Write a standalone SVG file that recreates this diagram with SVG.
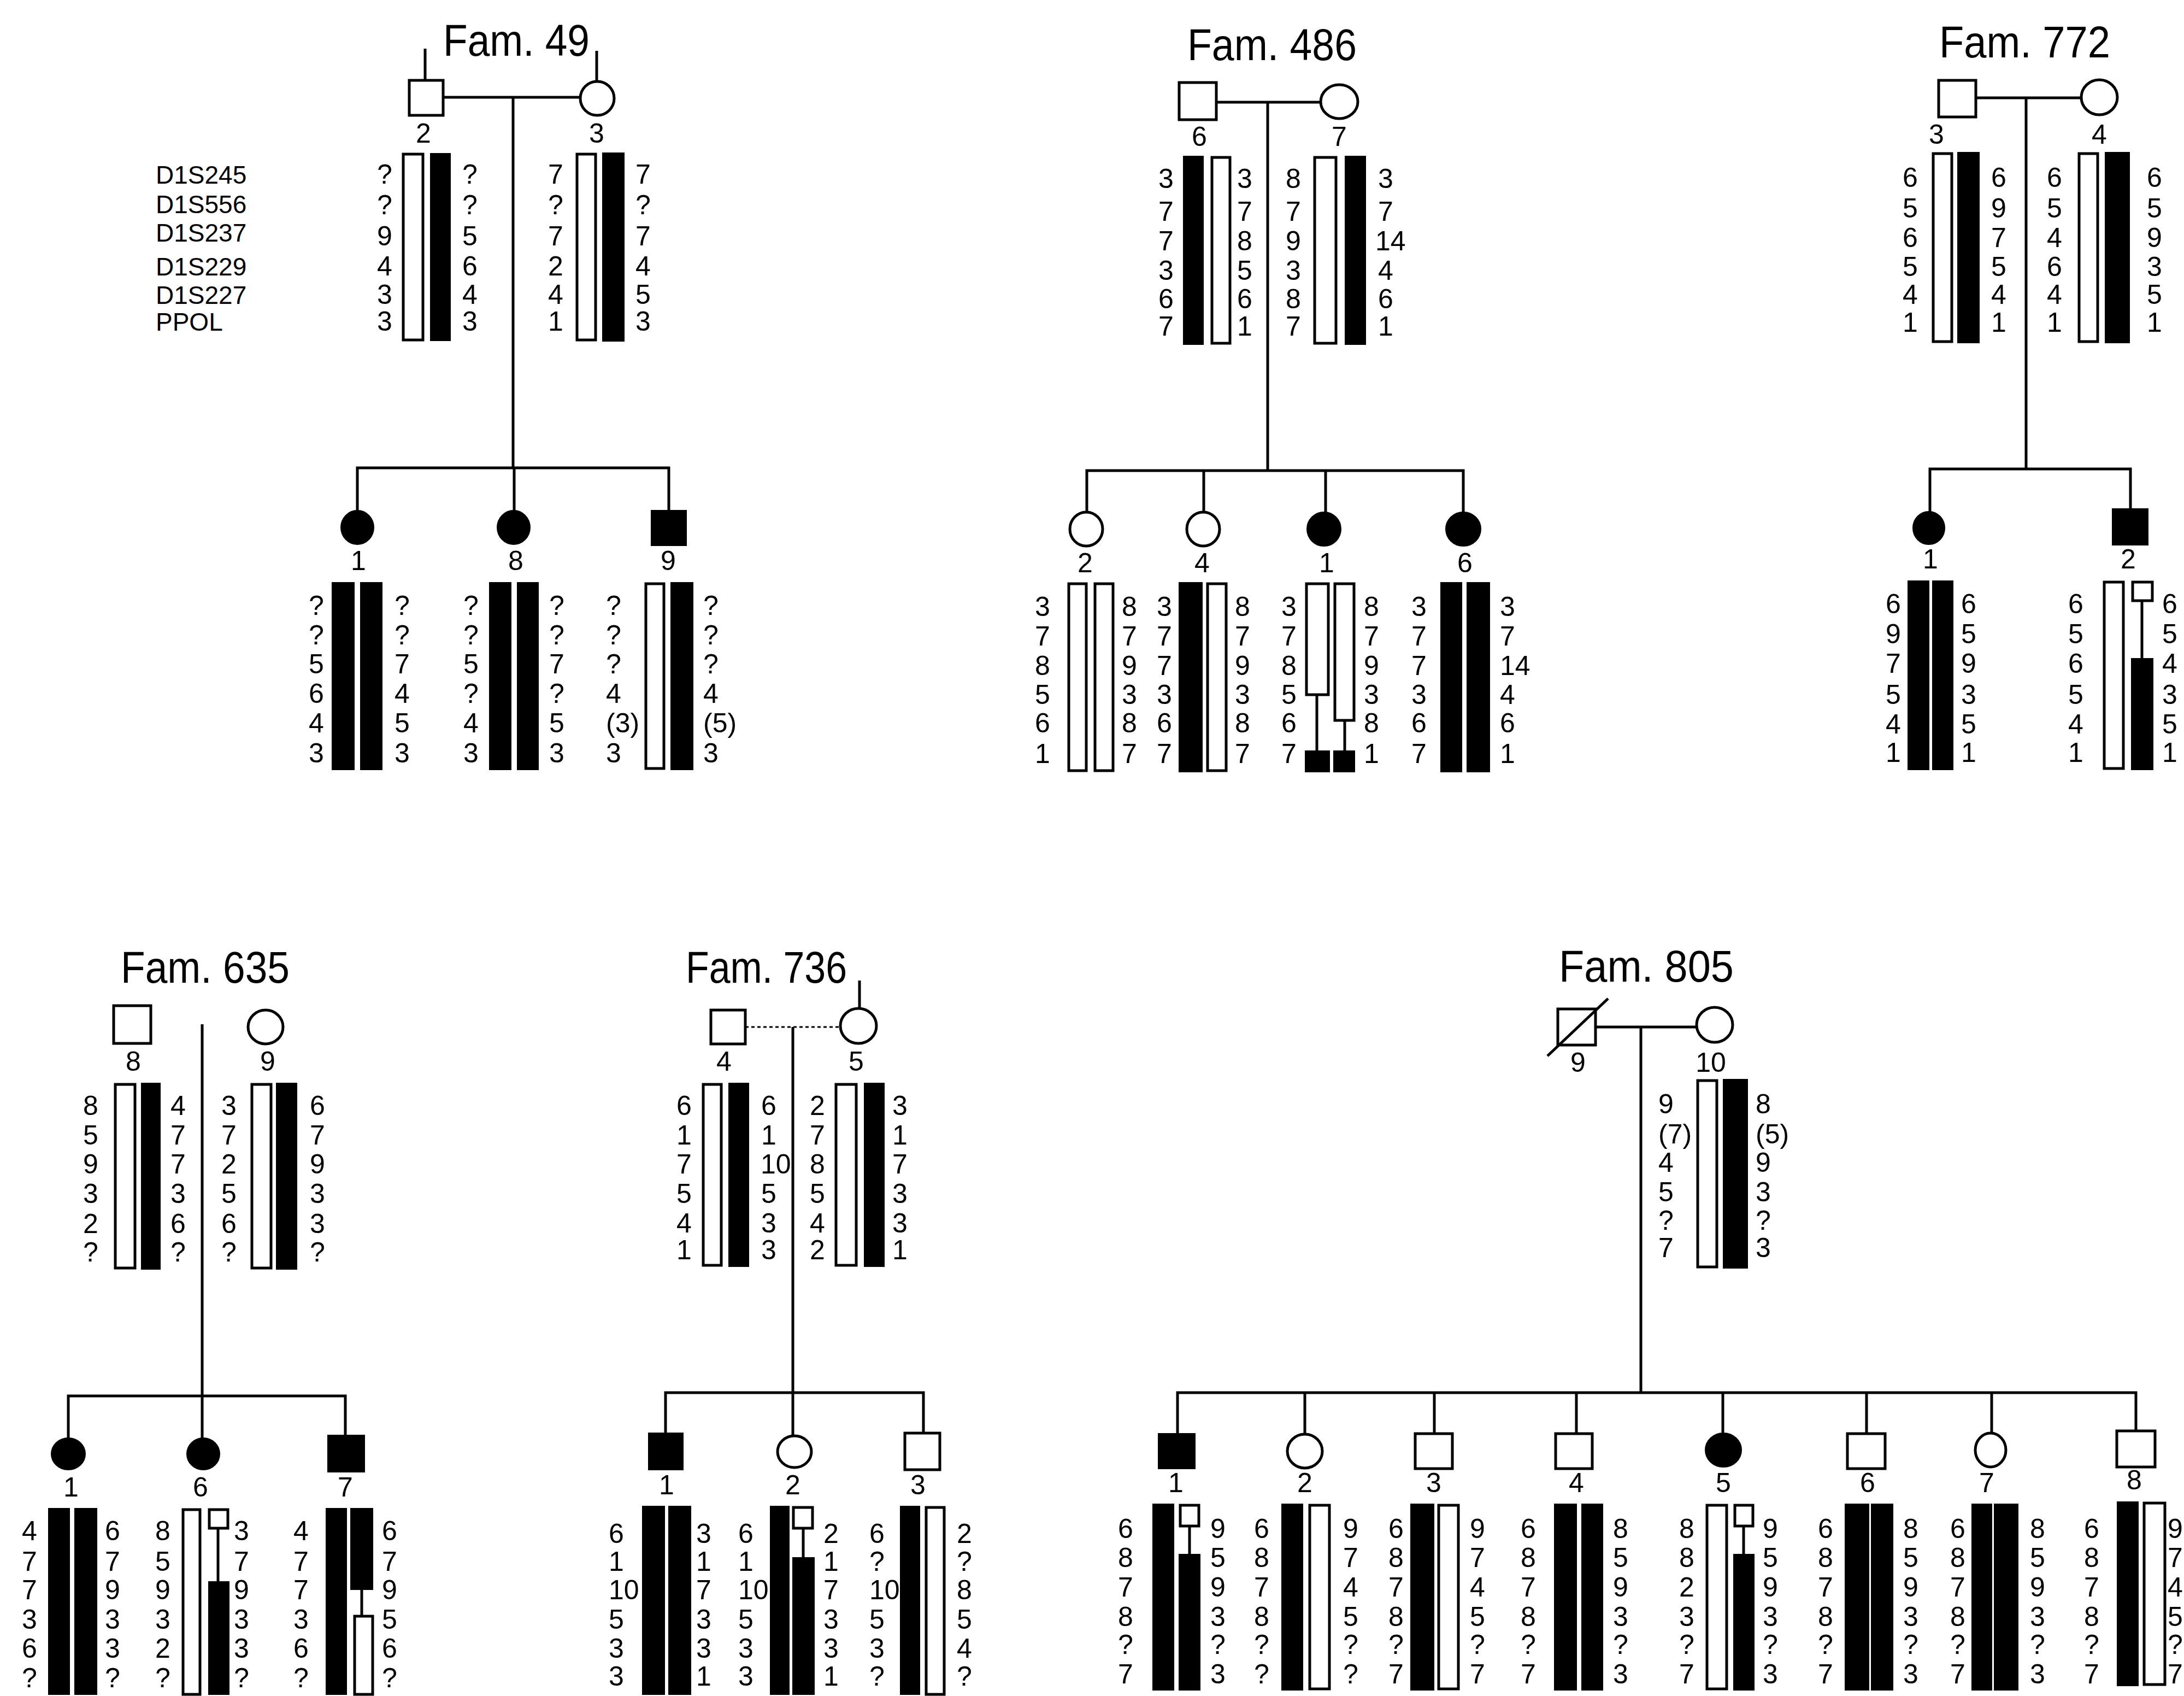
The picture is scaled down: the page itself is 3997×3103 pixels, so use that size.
<svg xmlns="http://www.w3.org/2000/svg" width="3997" height="3103" viewBox="0 0 3997 3103">
<style>
.ln{stroke:#000;stroke-width:5;fill:none}
.dl{stroke:#000;stroke-width:3;fill:none;stroke-dasharray:6 5}
.o{fill:#fff;stroke:#000;stroke-width:5}
.f{fill:#000;stroke:#000;stroke-width:2}
text{font-family:"Liberation Sans",Arial,sans-serif;fill:#000}
.a{font-size:50px}
.id{font-size:50px;text-anchor:middle}
.ttl{font-size:82px}
.mk{font-size:46px}
</style>
<rect width="3997" height="3103" fill="#fff"/>
<g id="titles">
<text class="ttl" x="811" y="102" textLength="268" lengthAdjust="spacingAndGlyphs">Fam. 49</text>
<text class="ttl" x="2173" y="110" textLength="310" lengthAdjust="spacingAndGlyphs">Fam. 486</text>
<text class="ttl" x="3549" y="105" textLength="313" lengthAdjust="spacingAndGlyphs">Fam. 772</text>
<text class="ttl" x="221" y="1798" textLength="309" lengthAdjust="spacingAndGlyphs">Fam. 635</text>
<text class="ttl" x="1255" y="1798" textLength="295" lengthAdjust="spacingAndGlyphs">Fam. 736</text>
<text class="ttl" x="2853" y="1796" textLength="320" lengthAdjust="spacingAndGlyphs">Fam. 805</text>
</g>
<g id="markers">
<text class="mk"><tspan x="285" y="336">D1S245</tspan><tspan x="285" y="390">D1S556</tspan><tspan x="285" y="442">D1S237</tspan><tspan x="285" y="504">D1S229</tspan><tspan x="285" y="556">D1S227</tspan><tspan x="285" y="605">PPOL</tspan></text>
</g>
<g id="connectors">
<path class="ln" d="M778 89V147M1092 93V149M811 178H1062M939 178V856M654 934V856H1224V934M941 856V934"/>
<path class="ln" d="M2226 187H2417M2320 187V861M1989 937V861H2678V937M2203 861V937M2426 861V937"/>
<path class="ln" d="M3616 179H3809M3708 179V858M3532 936V858H3899V931"/>
<path class="ln" d="M370 1874V2631M125 2631V2554H632V2626"/>
<path class="ln" d="M1573 1794V1845"/>
<path class="dl" d="M1364 1879H1538"/>
<path class="ln" d="M1451 1879V2627M1218 2622V2548H1690V2622"/>
<path class="ln" d="M2920 1879H3106M3003 1879V2548M2155 2623V2548H3909V2618M2388 2548V2624M2625 2548V2623M2885 2548V2623M3153 2548V2622M3416 2548V2623M3645 2548V2622"/>
</g>

<g id="f49-2">
<rect class="o" x="749" y="147" width="62" height="64"/>
<text class="id" x="775" y="261">2</text>
<rect class="o" x="738" y="282" width="36" height="340"/>
<rect class="f" x="788" y="281" width="36" height="342"/>
<text class="a"><tspan x="690" y="336">?</tspan><tspan x="690" y="392">?</tspan><tspan x="690" y="449">9</tspan><tspan x="690" y="504">4</tspan><tspan x="690" y="556">3</tspan><tspan x="690" y="605">3</tspan></text>
<text class="a"><tspan x="846" y="336">?</tspan><tspan x="846" y="392">?</tspan><tspan x="846" y="449">5</tspan><tspan x="846" y="504">6</tspan><tspan x="846" y="556">4</tspan><tspan x="846" y="605">3</tspan></text>
</g>
<g id="f49-3">
<ellipse class="o" cx="1093" cy="180" rx="31" ry="31"/>
<text class="id" x="1092" y="261">3</text>
<rect class="o" x="1056" y="282" width="34" height="340"/>
<rect class="f" x="1103" y="280" width="39" height="344"/>
<text class="a"><tspan x="1003" y="336">7</tspan><tspan x="1003" y="392">?</tspan><tspan x="1003" y="449">7</tspan><tspan x="1003" y="504">2</tspan><tspan x="1003" y="556">4</tspan><tspan x="1003" y="605">1</tspan></text>
<text class="a"><tspan x="1163" y="336">7</tspan><tspan x="1163" y="392">?</tspan><tspan x="1163" y="449">7</tspan><tspan x="1163" y="504">4</tspan><tspan x="1163" y="556">5</tspan><tspan x="1163" y="605">3</tspan></text>
</g>
<g id="f49-1">
<ellipse class="f" cx="654" cy="965" rx="30" ry="31"/>
<text class="id" x="656" y="1043">1</text>
<rect class="f" x="608" y="1066" width="40" height="342"/>
<rect class="f" x="660" y="1066" width="39" height="342"/>
<text class="a"><tspan x="565" y="1125">?</tspan><tspan x="565" y="1179">?</tspan><tspan x="565" y="1232">5</tspan><tspan x="565" y="1286">6</tspan><tspan x="565" y="1340">4</tspan><tspan x="565" y="1395">3</tspan></text>
<text class="a"><tspan x="722" y="1125">?</tspan><tspan x="722" y="1179">?</tspan><tspan x="722" y="1232">7</tspan><tspan x="722" y="1286">4</tspan><tspan x="722" y="1340">5</tspan><tspan x="722" y="1395">3</tspan></text>
</g>
<g id="f49-8">
<ellipse class="f" cx="940" cy="965" rx="30" ry="31"/>
<text class="id" x="944" y="1043">8</text>
<rect class="f" x="896" y="1066" width="39" height="342"/>
<rect class="f" x="947" y="1066" width="38" height="342"/>
<text class="a"><tspan x="848" y="1125">?</tspan><tspan x="848" y="1179">?</tspan><tspan x="848" y="1232">5</tspan><tspan x="848" y="1286">?</tspan><tspan x="848" y="1340">4</tspan><tspan x="848" y="1395">3</tspan></text>
<text class="a"><tspan x="1005" y="1125">?</tspan><tspan x="1005" y="1179">?</tspan><tspan x="1005" y="1232">7</tspan><tspan x="1005" y="1286">?</tspan><tspan x="1005" y="1340">5</tspan><tspan x="1005" y="1395">3</tspan></text>
</g>
<g id="f49-9">
<rect class="f" x="1192" y="934" width="64" height="64"/>
<text class="id" x="1223" y="1043">9</text>
<rect class="o" x="1182" y="1068" width="33" height="338"/>
<rect class="f" x="1228" y="1066" width="40" height="342"/>
<text class="a"><tspan x="1109" y="1125">?</tspan><tspan x="1109" y="1179">?</tspan><tspan x="1109" y="1232">?</tspan><tspan x="1109" y="1286">4</tspan><tspan x="1109" y="1340">(3)</tspan><tspan x="1109" y="1395">3</tspan></text>
<text class="a"><tspan x="1287" y="1125">?</tspan><tspan x="1287" y="1179">?</tspan><tspan x="1287" y="1232">?</tspan><tspan x="1287" y="1286">4</tspan><tspan x="1287" y="1340">(5)</tspan><tspan x="1287" y="1395">3</tspan></text>
</g>

<g id="f486-6">
<rect class="o" x="2158" y="151" width="68" height="68"/>
<text class="id" x="2195" y="267">6</text>
<rect class="f" x="2166" y="286" width="36" height="344"/>
<rect class="o" x="2218" y="288" width="33" height="340"/>
<text class="a"><tspan x="2120" y="344">3</tspan><tspan x="2120" y="404">7</tspan><tspan x="2120" y="458">7</tspan><tspan x="2120" y="512">3</tspan><tspan x="2120" y="564">6</tspan><tspan x="2120" y="614">7</tspan></text>
<text class="a"><tspan x="2264" y="344">3</tspan><tspan x="2264" y="404">7</tspan><tspan x="2264" y="458">8</tspan><tspan x="2264" y="512">5</tspan><tspan x="2264" y="564">6</tspan><tspan x="2264" y="614">1</tspan></text>
</g>
<g id="f486-7">
<ellipse class="o" cx="2451" cy="186" rx="34" ry="31"/>
<text class="id" x="2451" y="267">7</text>
<rect class="o" x="2406" y="288" width="39" height="340"/>
<rect class="f" x="2462" y="286" width="37" height="344"/>
<text class="a"><tspan x="2353" y="344">8</tspan><tspan x="2353" y="404">7</tspan><tspan x="2353" y="458">9</tspan><tspan x="2353" y="512">3</tspan><tspan x="2353" y="564">8</tspan><tspan x="2353" y="614">7</tspan></text>
<text class="a"><tspan x="2522" y="344">3</tspan><tspan x="2522" y="404">7</tspan><tspan x="2517" y="458">14</tspan><tspan x="2522" y="512">4</tspan><tspan x="2522" y="564">6</tspan><tspan x="2522" y="614">1</tspan></text>
</g>
<g id="f486-2">
<ellipse class="o" cx="1988" cy="968" rx="30" ry="31"/>
<text class="id" x="1986" y="1047">2</text>
<rect class="o" x="1956" y="1068" width="32" height="342"/>
<rect class="o" x="2004" y="1068" width="33" height="342"/>
<text class="a"><tspan x="1894" y="1127">3</tspan><tspan x="1894" y="1181">7</tspan><tspan x="1894" y="1235">8</tspan><tspan x="1894" y="1288">5</tspan><tspan x="1894" y="1340">6</tspan><tspan x="1894" y="1396">1</tspan></text>
<text class="a"><tspan x="2053" y="1127">8</tspan><tspan x="2053" y="1181">7</tspan><tspan x="2053" y="1235">9</tspan><tspan x="2053" y="1288">3</tspan><tspan x="2053" y="1340">8</tspan><tspan x="2053" y="1396">7</tspan></text>
</g>
<g id="f486-4">
<ellipse class="o" cx="2202" cy="968" rx="30" ry="31"/>
<text class="id" x="2200" y="1047">4</text>
<rect class="f" x="2158" y="1066" width="42" height="346"/>
<rect class="o" x="2210" y="1068" width="34" height="342"/>
<text class="a"><tspan x="2117" y="1127">3</tspan><tspan x="2117" y="1181">7</tspan><tspan x="2117" y="1235">7</tspan><tspan x="2117" y="1288">3</tspan><tspan x="2117" y="1340">6</tspan><tspan x="2117" y="1396">7</tspan></text>
<text class="a"><tspan x="2260" y="1127">8</tspan><tspan x="2260" y="1181">7</tspan><tspan x="2260" y="1235">9</tspan><tspan x="2260" y="1288">3</tspan><tspan x="2260" y="1340">8</tspan><tspan x="2260" y="1396">7</tspan></text>
</g>
<g id="f486-1">
<ellipse class="f" cx="2423" cy="968" rx="31" ry="31"/>
<text class="id" x="2428" y="1047">1</text>
<rect class="o" x="2391" y="1068" width="40" height="203"/>
<path class="ln" d="M2410 1271V1374"/>
<rect class="f" x="2389" y="1374" width="44" height="38"/>
<rect class="o" x="2443" y="1068" width="35" height="250"/>
<path class="ln" d="M2461 1318V1374"/>
<rect class="f" x="2441" y="1374" width="38" height="38"/>
<text class="a"><tspan x="2345" y="1127">3</tspan><tspan x="2345" y="1181">7</tspan><tspan x="2345" y="1235">8</tspan><tspan x="2345" y="1288">5</tspan><tspan x="2345" y="1340">6</tspan><tspan x="2345" y="1396">7</tspan></text>
<text class="a"><tspan x="2496" y="1127">8</tspan><tspan x="2496" y="1181">7</tspan><tspan x="2496" y="1235">9</tspan><tspan x="2496" y="1288">3</tspan><tspan x="2496" y="1340">8</tspan><tspan x="2496" y="1396">1</tspan></text>
</g>
<g id="f486-6c">
<ellipse class="f" cx="2678" cy="968" rx="32" ry="31"/>
<text class="id" x="2681" y="1047">6</text>
<rect class="f" x="2637" y="1066" width="38" height="346"/>
<rect class="f" x="2685" y="1066" width="41" height="346"/>
<text class="a"><tspan x="2583" y="1127">3</tspan><tspan x="2583" y="1181">7</tspan><tspan x="2583" y="1235">7</tspan><tspan x="2583" y="1288">3</tspan><tspan x="2583" y="1340">6</tspan><tspan x="2583" y="1396">7</tspan></text>
<text class="a"><tspan x="2745" y="1127">3</tspan><tspan x="2745" y="1181">7</tspan><tspan x="2745" y="1235">14</tspan><tspan x="2745" y="1288">4</tspan><tspan x="2745" y="1340">6</tspan><tspan x="2745" y="1396">1</tspan></text>
</g>

<g id="f772-3">
<rect class="o" x="3548" y="147" width="68" height="67"/>
<text class="id" x="3544" y="263">3</text>
<rect class="o" x="3538" y="281" width="34" height="344"/>
<rect class="f" x="3583" y="279" width="39" height="348"/>
<text class="a"><tspan x="3482" y="342">6</tspan><tspan x="3482" y="398">5</tspan><tspan x="3482" y="452">6</tspan><tspan x="3482" y="505">5</tspan><tspan x="3482" y="556">4</tspan><tspan x="3482" y="607">1</tspan></text>
<text class="a"><tspan x="3644" y="342">6</tspan><tspan x="3644" y="398">9</tspan><tspan x="3644" y="452">7</tspan><tspan x="3644" y="505">5</tspan><tspan x="3644" y="556">4</tspan><tspan x="3644" y="607">1</tspan></text>
</g>
<g id="f772-4">
<ellipse class="o" cx="3842" cy="178" rx="33" ry="32"/>
<text class="id" x="3842" y="263">4</text>
<rect class="o" x="3805" y="281" width="34" height="344"/>
<rect class="f" x="3853" y="279" width="44" height="348"/>
<text class="a"><tspan x="3746" y="342">6</tspan><tspan x="3746" y="398">5</tspan><tspan x="3746" y="452">4</tspan><tspan x="3746" y="505">6</tspan><tspan x="3746" y="556">4</tspan><tspan x="3746" y="607">1</tspan></text>
<text class="a"><tspan x="3929" y="342">6</tspan><tspan x="3929" y="398">5</tspan><tspan x="3929" y="452">9</tspan><tspan x="3929" y="505">3</tspan><tspan x="3929" y="556">5</tspan><tspan x="3929" y="607">1</tspan></text>
</g>
<g id="f772-1">
<ellipse class="f" cx="3530" cy="966" rx="29" ry="30"/>
<text class="id" x="3533" y="1040">1</text>
<rect class="f" x="3492" y="1063" width="38" height="345"/>
<rect class="f" x="3537" y="1063" width="37" height="345"/>
<text class="a"><tspan x="3451" y="1122">6</tspan><tspan x="3451" y="1177">9</tspan><tspan x="3451" y="1231">7</tspan><tspan x="3451" y="1288">5</tspan><tspan x="3451" y="1342">4</tspan><tspan x="3451" y="1394">1</tspan></text>
<text class="a"><tspan x="3589" y="1122">6</tspan><tspan x="3589" y="1177">5</tspan><tspan x="3589" y="1231">9</tspan><tspan x="3589" y="1288">3</tspan><tspan x="3589" y="1342">5</tspan><tspan x="3589" y="1394">1</tspan></text>
</g>
<g id="f772-2">
<rect class="f" x="3866" y="931" width="65" height="66"/>
<text class="id" x="3895" y="1040">2</text>
<rect class="o" x="3851" y="1065" width="35" height="341"/>
<rect class="o" x="3903" y="1065" width="36" height="34"/>
<path class="ln" d="M3920 1099V1205"/>
<rect class="f" x="3901" y="1205" width="39" height="203"/>
<text class="a"><tspan x="3785" y="1122">6</tspan><tspan x="3785" y="1177">5</tspan><tspan x="3785" y="1231">6</tspan><tspan x="3785" y="1288">5</tspan><tspan x="3785" y="1342">4</tspan><tspan x="3785" y="1394">1</tspan></text>
<text class="a"><tspan x="3957" y="1122">6</tspan><tspan x="3957" y="1177">5</tspan><tspan x="3957" y="1231">4</tspan><tspan x="3957" y="1288">3</tspan><tspan x="3957" y="1342">5</tspan><tspan x="3957" y="1394">1</tspan></text>
</g>

<g id="f635-8">
<rect class="o" x="208" y="1840" width="68" height="69"/>
<text class="id" x="244" y="1959">8</text>
<rect class="o" x="211" y="1984" width="36" height="336"/>
<rect class="f" x="259" y="1982" width="34" height="340"/>
<text class="a"><tspan x="152" y="2040">8</tspan><tspan x="152" y="2094">5</tspan><tspan x="152" y="2147">9</tspan><tspan x="152" y="2201">3</tspan><tspan x="152" y="2256">2</tspan><tspan x="152" y="2308">?</tspan></text>
<text class="a"><tspan x="312" y="2040">4</tspan><tspan x="312" y="2094">7</tspan><tspan x="312" y="2147">7</tspan><tspan x="312" y="2201">3</tspan><tspan x="312" y="2256">6</tspan><tspan x="312" y="2308">?</tspan></text>
</g>
<g id="f635-9">
<ellipse class="o" cx="486" cy="1879" rx="32" ry="31"/>
<text class="id" x="490" y="1959">9</text>
<rect class="o" x="461" y="1984" width="35" height="336"/>
<rect class="f" x="506" y="1982" width="37" height="340"/>
<text class="a"><tspan x="405" y="2040">3</tspan><tspan x="405" y="2094">7</tspan><tspan x="405" y="2147">2</tspan><tspan x="405" y="2201">5</tspan><tspan x="405" y="2256">6</tspan><tspan x="405" y="2308">?</tspan></text>
<text class="a"><tspan x="567" y="2040">6</tspan><tspan x="567" y="2094">7</tspan><tspan x="567" y="2147">9</tspan><tspan x="567" y="2201">3</tspan><tspan x="567" y="2256">3</tspan><tspan x="567" y="2308">?</tspan></text>
</g>
<g id="f635-1">
<ellipse class="f" cx="125" cy="2660" rx="31" ry="29"/>
<text class="id" x="130" y="2738">1</text>
<rect class="f" x="89" y="2760" width="38" height="340"/>
<rect class="f" x="137" y="2760" width="40" height="340"/>
<text class="a"><tspan x="40" y="2818">4</tspan><tspan x="40" y="2874">7</tspan><tspan x="40" y="2926">7</tspan><tspan x="40" y="2980">3</tspan><tspan x="40" y="3033">6</tspan><tspan x="40" y="3087">?</tspan></text>
<text class="a"><tspan x="192" y="2818">6</tspan><tspan x="192" y="2874">7</tspan><tspan x="192" y="2926">9</tspan><tspan x="192" y="2980">3</tspan><tspan x="192" y="3033">3</tspan><tspan x="192" y="3087">?</tspan></text>
</g>
<g id="f635-6">
<ellipse class="f" cx="372" cy="2660" rx="30" ry="29"/>
<text class="id" x="367" y="2738">6</text>
<rect class="o" x="335" y="2762" width="31" height="338"/>
<rect class="o" x="383" y="2762" width="34" height="34"/>
<path class="ln" d="M399 2796V2894"/>
<rect class="f" x="382" y="2894" width="37" height="206"/>
<text class="a"><tspan x="284" y="2818">8</tspan><tspan x="284" y="2874">5</tspan><tspan x="284" y="2926">9</tspan><tspan x="284" y="2980">3</tspan><tspan x="284" y="3033">2</tspan><tspan x="284" y="3087">?</tspan></text>
<text class="a"><tspan x="428" y="2818">3</tspan><tspan x="428" y="2874">7</tspan><tspan x="428" y="2926">9</tspan><tspan x="428" y="2980">3</tspan><tspan x="428" y="3033">3</tspan><tspan x="428" y="3087">?</tspan></text>
</g>
<g id="f635-7">
<rect class="f" x="600" y="2626" width="67" height="67"/>
<text class="id" x="632" y="2738">7</text>
<rect class="f" x="597" y="2760" width="37" height="340"/>
<rect class="f" x="642" y="2760" width="40" height="148"/>
<path class="ln" d="M662 2908V2957"/>
<rect class="o" x="649" y="2957" width="33" height="143"/>
<text class="a"><tspan x="537" y="2818">4</tspan><tspan x="537" y="2874">7</tspan><tspan x="537" y="2926">7</tspan><tspan x="537" y="2980">3</tspan><tspan x="537" y="3033">6</tspan><tspan x="537" y="3087">?</tspan></text>
<text class="a"><tspan x="699" y="2818">6</tspan><tspan x="699" y="2874">7</tspan><tspan x="699" y="2926">9</tspan><tspan x="699" y="2980">5</tspan><tspan x="699" y="3033">6</tspan><tspan x="699" y="3087">?</tspan></text>
</g>

<g id="f736-4">
<rect class="o" x="1301" y="1848" width="63" height="62"/>
<text class="id" x="1325" y="1959">4</text>
<rect class="o" x="1287" y="1984" width="33" height="331"/>
<rect class="f" x="1334" y="1982" width="36" height="335"/>
<text class="a"><tspan x="1238" y="2040">6</tspan><tspan x="1238" y="2094">1</tspan><tspan x="1238" y="2147">7</tspan><tspan x="1238" y="2201">5</tspan><tspan x="1238" y="2255">4</tspan><tspan x="1238" y="2304">1</tspan></text>
<text class="a"><tspan x="1393" y="2040">6</tspan><tspan x="1393" y="2094">1</tspan><tspan x="1392" y="2147">10</tspan><tspan x="1393" y="2201">5</tspan><tspan x="1393" y="2255">3</tspan><tspan x="1393" y="2304">3</tspan></text>
</g>
<g id="f736-5">
<ellipse class="o" cx="1571" cy="1877" rx="33" ry="32"/>
<text class="id" x="1567" y="1959">5</text>
<rect class="o" x="1530" y="1984" width="37" height="331"/>
<rect class="f" x="1582" y="1982" width="36" height="335"/>
<text class="a"><tspan x="1482" y="2040">2</tspan><tspan x="1482" y="2094">7</tspan><tspan x="1482" y="2147">8</tspan><tspan x="1482" y="2201">5</tspan><tspan x="1482" y="2255">4</tspan><tspan x="1482" y="2304">2</tspan></text>
<text class="a"><tspan x="1633" y="2040">3</tspan><tspan x="1633" y="2094">1</tspan><tspan x="1633" y="2147">7</tspan><tspan x="1633" y="2201">3</tspan><tspan x="1633" y="2255">3</tspan><tspan x="1633" y="2304">1</tspan></text>
</g>
<g id="f736-1">
<rect class="f" x="1187" y="2622" width="63" height="67"/>
<text class="id" x="1220" y="2734">1</text>
<rect class="f" x="1176" y="2756" width="40" height="344"/>
<rect class="f" x="1224" y="2756" width="40" height="344"/>
<text class="a"><tspan x="1114" y="2823">6</tspan><tspan x="1114" y="2874">1</tspan><tspan x="1114" y="2926">10</tspan><tspan x="1114" y="2980">5</tspan><tspan x="1114" y="3033">3</tspan><tspan x="1114" y="3084">3</tspan></text>
<text class="a"><tspan x="1274" y="2823">3</tspan><tspan x="1274" y="2874">1</tspan><tspan x="1274" y="2926">7</tspan><tspan x="1274" y="2980">3</tspan><tspan x="1274" y="3033">3</tspan><tspan x="1274" y="3084">1</tspan></text>
</g>
<g id="f736-2">
<ellipse class="o" cx="1454" cy="2656" rx="31" ry="29"/>
<text class="id" x="1451" y="2734">2</text>
<rect class="f" x="1410" y="2756" width="34" height="344"/>
<rect class="o" x="1452" y="2758" width="35" height="38"/>
<path class="ln" d="M1470 2796V2850"/>
<rect class="f" x="1451" y="2850" width="39" height="250"/>
<text class="a"><tspan x="1351" y="2823">6</tspan><tspan x="1351" y="2874">1</tspan><tspan x="1351" y="2926">10</tspan><tspan x="1351" y="2980">5</tspan><tspan x="1351" y="3033">3</tspan><tspan x="1351" y="3084">3</tspan></text>
<text class="a"><tspan x="1507" y="2823">2</tspan><tspan x="1507" y="2874">1</tspan><tspan x="1507" y="2926">7</tspan><tspan x="1507" y="2980">3</tspan><tspan x="1507" y="3033">3</tspan><tspan x="1507" y="3084">1</tspan></text>
</g>
<g id="f736-3">
<rect class="o" x="1656" y="2622" width="64" height="67"/>
<text class="id" x="1680" y="2734">3</text>
<rect class="f" x="1648" y="2756" width="35" height="344"/>
<rect class="o" x="1695" y="2758" width="33" height="342"/>
<text class="a"><tspan x="1591" y="2823">6</tspan><tspan x="1591" y="2874">?</tspan><tspan x="1591" y="2926">10</tspan><tspan x="1591" y="2980">5</tspan><tspan x="1591" y="3033">3</tspan><tspan x="1591" y="3084">?</tspan></text>
<text class="a"><tspan x="1751" y="2823">2</tspan><tspan x="1751" y="2874">?</tspan><tspan x="1751" y="2926">8</tspan><tspan x="1751" y="2980">5</tspan><tspan x="1751" y="3033">4</tspan><tspan x="1751" y="3084">?</tspan></text>
</g>

<g id="f805-9">
<rect class="o" x="2851" y="1846" width="69" height="66"/>
<path class="ln" d="M2832 1932L2943 1827"/>
<text class="id" x="2888" y="1961">9</text>
</g>
<g id="f805-10">
<ellipse class="o" cx="3138" cy="1875" rx="33" ry="32"/>
<text class="id" x="3131" y="1961">10</text>
<rect class="o" x="3107" y="1977" width="35" height="341"/>
<rect class="f" x="3154" y="1975" width="44" height="345"/>
<text class="a"><tspan x="3035" y="2037">9</tspan><tspan x="3035" y="2092">(7)</tspan><tspan x="3035" y="2144">4</tspan><tspan x="3035" y="2198">5</tspan><tspan x="3035" y="2250">?</tspan><tspan x="3035" y="2300">7</tspan></text>
<text class="a"><tspan x="3213" y="2037">8</tspan><tspan x="3213" y="2092">(5)</tspan><tspan x="3213" y="2144">9</tspan><tspan x="3213" y="2198">3</tspan><tspan x="3213" y="2250">?</tspan><tspan x="3213" y="2300">3</tspan></text>
</g>
<g id="f805-1">
<rect class="f" x="2120" y="2623" width="67" height="64"/>
<text class="id" x="2152" y="2730">1</text>
<rect class="f" x="2110" y="2752" width="38" height="340"/>
<rect class="o" x="2160" y="2754" width="34" height="38"/>
<path class="ln" d="M2177 2792V2844"/>
<rect class="f" x="2158" y="2844" width="38" height="248"/>
<text class="a"><tspan x="2046" y="2814">6</tspan><tspan x="2046" y="2867">8</tspan><tspan x="2046" y="2921">7</tspan><tspan x="2046" y="2975">8</tspan><tspan x="2046" y="3026">?</tspan><tspan x="2046" y="3080">7</tspan></text>
<text class="a"><tspan x="2215" y="2814">9</tspan><tspan x="2215" y="2867">5</tspan><tspan x="2215" y="2921">9</tspan><tspan x="2215" y="2975">3</tspan><tspan x="2215" y="3026">?</tspan><tspan x="2215" y="3080">3</tspan></text>
</g>
<g id="f805-2">
<ellipse class="o" cx="2388" cy="2655" rx="32" ry="31"/>
<text class="id" x="2388" y="2730">2</text>
<rect class="f" x="2346" y="2752" width="38" height="340"/>
<rect class="o" x="2397" y="2754" width="36" height="336"/>
<text class="a"><tspan x="2295" y="2814">6</tspan><tspan x="2295" y="2867">8</tspan><tspan x="2295" y="2921">7</tspan><tspan x="2295" y="2975">8</tspan><tspan x="2295" y="3026">?</tspan><tspan x="2295" y="3080">?</tspan></text>
<text class="a"><tspan x="2458" y="2814">9</tspan><tspan x="2458" y="2867">7</tspan><tspan x="2458" y="2921">4</tspan><tspan x="2458" y="2975">5</tspan><tspan x="2458" y="3026">?</tspan><tspan x="2458" y="3080">?</tspan></text>
</g>
<g id="f805-3">
<rect class="o" x="2590" y="2623" width="68" height="64"/>
<text class="id" x="2624" y="2730">3</text>
<rect class="f" x="2582" y="2752" width="42" height="340"/>
<rect class="o" x="2633" y="2754" width="36" height="336"/>
<text class="a"><tspan x="2541" y="2814">6</tspan><tspan x="2541" y="2867">8</tspan><tspan x="2541" y="2921">7</tspan><tspan x="2541" y="2975">8</tspan><tspan x="2541" y="3026">?</tspan><tspan x="2541" y="3080">7</tspan></text>
<text class="a"><tspan x="2690" y="2814">9</tspan><tspan x="2690" y="2867">7</tspan><tspan x="2690" y="2921">4</tspan><tspan x="2690" y="2975">5</tspan><tspan x="2690" y="3026">?</tspan><tspan x="2690" y="3080">7</tspan></text>
</g>
<g id="f805-4">
<rect class="o" x="2847" y="2623" width="67" height="64"/>
<text class="id" x="2885" y="2730">4</text>
<rect class="f" x="2845" y="2752" width="40" height="340"/>
<rect class="f" x="2895" y="2752" width="38" height="340"/>
<text class="a"><tspan x="2783" y="2814">6</tspan><tspan x="2783" y="2867">8</tspan><tspan x="2783" y="2921">7</tspan><tspan x="2783" y="2975">8</tspan><tspan x="2783" y="3026">?</tspan><tspan x="2783" y="3080">7</tspan></text>
<text class="a"><tspan x="2952" y="2814">8</tspan><tspan x="2952" y="2867">5</tspan><tspan x="2952" y="2921">9</tspan><tspan x="2952" y="2975">3</tspan><tspan x="2952" y="3026">?</tspan><tspan x="2952" y="3080">3</tspan></text>
</g>
<g id="f805-5">
<ellipse class="f" cx="3154" cy="2653" rx="33" ry="31"/>
<text class="id" x="3154" y="2730">5</text>
<rect class="o" x="3124" y="2754" width="36" height="336"/>
<rect class="o" x="3175" y="2754" width="33" height="38"/>
<path class="ln" d="M3191 2792V2844"/>
<rect class="f" x="3173" y="2844" width="37" height="248"/>
<text class="a"><tspan x="3073" y="2814">8</tspan><tspan x="3073" y="2867">8</tspan><tspan x="3073" y="2921">2</tspan><tspan x="3073" y="2975">3</tspan><tspan x="3073" y="3026">?</tspan><tspan x="3073" y="3080">7</tspan></text>
<text class="a"><tspan x="3226" y="2814">9</tspan><tspan x="3226" y="2867">5</tspan><tspan x="3226" y="2921">9</tspan><tspan x="3226" y="2975">3</tspan><tspan x="3226" y="3026">?</tspan><tspan x="3226" y="3080">3</tspan></text>
</g>
<g id="f805-6">
<rect class="o" x="3381" y="2623" width="69" height="64"/>
<text class="id" x="3418" y="2730">6</text>
<rect class="f" x="3377" y="2752" width="43" height="340"/>
<rect class="f" x="3425" y="2752" width="39" height="340"/>
<text class="a"><tspan x="3327" y="2814">6</tspan><tspan x="3327" y="2867">8</tspan><tspan x="3327" y="2921">7</tspan><tspan x="3327" y="2975">8</tspan><tspan x="3327" y="3026">?</tspan><tspan x="3327" y="3080">7</tspan></text>
<text class="a"><tspan x="3483" y="2814">8</tspan><tspan x="3483" y="2867">5</tspan><tspan x="3483" y="2921">9</tspan><tspan x="3483" y="2975">3</tspan><tspan x="3483" y="3026">?</tspan><tspan x="3483" y="3080">3</tspan></text>
</g>
<g id="f805-7">
<ellipse class="o" cx="3643" cy="2653" rx="28" ry="31"/>
<text class="id" x="3636" y="2730">7</text>
<rect class="f" x="3609" y="2752" width="36" height="340"/>
<rect class="f" x="3650" y="2752" width="43" height="340"/>
<text class="a"><tspan x="3569" y="2814">6</tspan><tspan x="3569" y="2867">8</tspan><tspan x="3569" y="2921">7</tspan><tspan x="3569" y="2975">8</tspan><tspan x="3569" y="3026">?</tspan><tspan x="3569" y="3080">7</tspan></text>
<text class="a"><tspan x="3715" y="2814">8</tspan><tspan x="3715" y="2867">5</tspan><tspan x="3715" y="2921">9</tspan><tspan x="3715" y="2975">3</tspan><tspan x="3715" y="3026">?</tspan><tspan x="3715" y="3080">3</tspan></text>
</g>
<g id="f805-8">
<rect class="o" x="3874" y="2618" width="70" height="66"/>
<text class="id" x="3906" y="2725">8</text>
<rect class="f" x="3875" y="2748" width="38" height="336"/>
<rect class="o" x="3924" y="2750" width="38" height="332"/>
<text class="a"><tspan x="3814" y="2814">6</tspan><tspan x="3814" y="2867">8</tspan><tspan x="3814" y="2921">7</tspan><tspan x="3814" y="2975">8</tspan><tspan x="3814" y="3026">?</tspan><tspan x="3814" y="3080">7</tspan></text>
<text class="a"><tspan x="3967" y="2814">9</tspan><tspan x="3967" y="2867">7</tspan><tspan x="3967" y="2921">4</tspan><tspan x="3967" y="2975">5</tspan><tspan x="3967" y="3026">?</tspan><tspan x="3967" y="3080">7</tspan></text>
</g>
</svg>
